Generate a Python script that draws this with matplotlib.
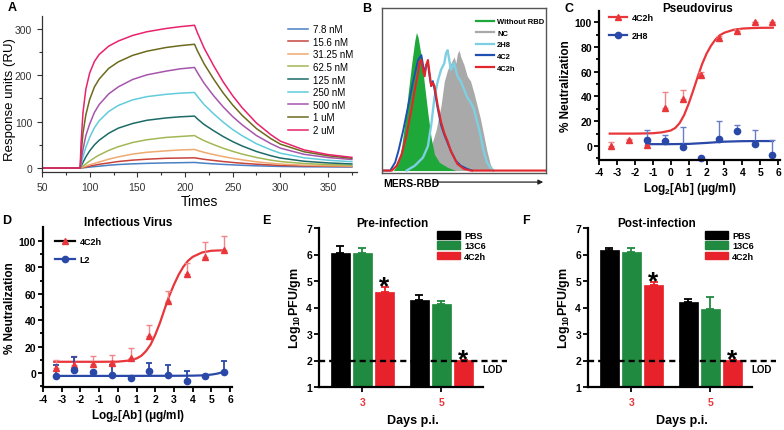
import numpy as np
import matplotlib
matplotlib.use('Agg')
from matplotlib import pyplot as plt
from matplotlib.lines import Line2D
from matplotlib.patches import Patch

plt.rcParams['font.family'] = ['Liberation Sans', 'DejaVu Sans']
plt.rcParams['mathtext.fontset'] = 'custom'
plt.rcParams['mathtext.bf'] = 'Liberation Sans:bold'
plt.rcParams['mathtext.rm'] = 'Liberation Sans:bold'
plt.rcParams['mathtext.default'] = 'bf'
plt.rcParams['axes.unicode_minus'] = False

# ---------------- A: SPR sensorgram ----------------
spr_time = [50, 90, 91, 93, 96, 100, 105, 110, 120, 130, 145, 160, 180, 195, 210,
            213, 220, 230, 240, 250, 260, 275, 290, 300, 325, 350, 375]
spr_labels = ['7.8 nM', '15.6 nM', '31.25 nM', '62.5 nM', '125 nM', '250 nM', '500 nM', '1 uM', '2 uM']
spr_colors = ['#4a80c4', '#c8443c', '#eeaa70', '#a2b855', '#1c6b68', '#62cbdc', '#a655ad', '#6c6a1c', '#e8226c']
spr_7_8 = [0, 0, 0.2, 0.5, 1, 2, 3, 4, 6, 7.5, 9, 10, 11, 11.5, 12,
           11.5, 10.3, 9, 7.8, 6.8, 5.9, 4.7, 3.9, 3.4, 2.7, 2.4, 2.2]
spr_15_6 = [0, 0, 0.3, 1, 2, 4, 6, 8, 11, 14, 17, 19, 21, 21.5, 22,
            21, 18.8, 16.3, 14, 12, 10.3, 8.2, 6.5, 5.6, 4.4, 3.7, 3.3]
spr_31_25 = [0, 0, 0.5, 2, 4, 7, 10, 13, 19, 24, 30, 34, 37, 39, 40,
             38, 33.8, 29, 24.7, 20.9, 17.6, 13.4, 10.3, 8.5, 6.1, 4.9, 4.1]
spr_62_5 = [0, 0, 1, 4, 9, 15, 22, 28, 38, 46, 55, 61, 66, 68, 70,
            66.4, 59, 50.5, 42.7, 36, 30, 22.7, 17, 14, 9.7, 7.5, 6.1]
spr_125 = [0, 0, 4, 12, 24, 37, 50, 60, 75, 86, 96, 103, 108, 110.5, 112,
           106, 94, 80.5, 68, 57, 47.5, 35.6, 26.5, 21.5, 14.6, 11, 8.8]
spr_250 = [0, 0, 8, 24, 45, 66, 87, 102, 122, 135, 147, 154, 159, 161.5, 163,
           154.6, 137, 117, 99, 83, 69.7, 52.3, 39.3, 32, 22, 16.8, 13.6]
spr_500 = [0, 0, 15, 40, 70, 95, 120, 137, 160, 175, 191, 201, 209, 214, 217,
           206, 183, 156, 132, 111, 93, 70, 52.6, 42.9, 29.5, 22.7, 18.4]
spr_1000 = [0, 0, 30, 75, 115, 148, 175, 192, 215, 229, 243, 252, 260, 264, 267,
            253, 225, 192, 162, 136, 113.5, 85, 63.5, 51.5, 35, 26.5, 21]
spr_2000 = [0, 0, 55, 120, 170, 205, 230, 245, 263, 274, 286, 294, 301, 305, 308,
            292, 259, 221, 186, 156, 130, 97, 72, 58, 39, 29, 23]
spr_curves = [spr_7_8, spr_15_6, spr_31_25, spr_62_5, spr_125, spr_250, spr_500, spr_1000, spr_2000]

# ---------------- B: flow cytometry histograms ----------------
norbd_x = [7, 10, 12, 14, 16, 18, 20, 21, 22, 24, 26, 28, 30, 32, 35, 40, 45]
norbd_y = [0, 5, 15, 30, 48, 65, 80, 85, 82, 70, 52, 35, 20, 10, 5, 2, 0]
nc_x = [20, 25, 30, 33, 36, 38, 40, 42, 44, 45, 46, 47, 48, 50, 52, 54, 56, 58, 60, 62, 64, 66, 68]
nc_y = [0, 5, 15, 25, 40, 55, 62, 66, 70, 66, 72, 74, 70, 65, 58, 55, 48, 40, 32, 22, 12, 4, 0]
h2h8_x = [15, 20, 25, 28, 30, 32, 34, 36, 38, 39, 40, 42, 44, 46, 48, 50, 52, 54, 56, 58, 60, 62, 64, 66, 68]
h2h8_y = [0, 3, 8, 15, 28, 45, 55, 62, 66, 72, 74, 62, 66, 58, 55, 50, 45, 42, 38, 30, 22, 12, 5, 2, 0]
c42_x = [0, 5, 8, 10, 13, 16, 19, 22, 24, 25, 26, 27, 28, 29, 30, 31, 32, 34, 36, 38, 40, 42, 45, 48, 52, 55]
c42_y = [0, 0, 5, 12, 25, 40, 55, 68, 71, 65, 60, 65, 66, 58, 52, 55, 50, 38, 28, 22, 17, 12, 6, 3, 1, 0]
c42h_x = [0, 6, 9, 12, 15, 18, 20, 22, 23, 24, 25, 26, 27, 28, 29, 30, 31, 32, 34, 36, 38, 40, 42, 44, 46, 50, 54, 100]
c42h_y = [0, 0, 3, 10, 22, 38, 50, 60, 67, 68, 62, 58, 65, 68, 60, 52, 54, 52, 40, 30, 23, 18, 12, 8, 4, 1, 0, 0]
b_labels = ['Without RBD', 'NC', '2H8', '4C2', '4C2h']
b_colors = ['#1fa83a', '#a9a9a9', '#7fcfe3', '#1f4fb0', '#e3262b']

# ---------------- C: pseudovirus neutralization ----------------
c_x = [-3.32, -2.32, -1.32, -0.32, 0.68, 1.68, 2.68, 3.68, 4.68, 5.68]
c_4c2h = [0, 5, 1, 31, 38, 57, 87, 93, 100, 100]
c_4c2h_err = [3.5, 1, 3.5, 13, 7, 3, 1.5, 1.5, 0, 0]
c_2h8_x = [-1.32, -0.32, 0.68, 1.68, 2.68, 3.68, 4.68, 5.68]
c_2h8 = [5, 4, -1, -10, 6, 12, 2, -7]
c_2h8_err = [8, 4.5, 16.5, 0, 14, 5, 11, 12]
c_fit_x = [-3.4, -2, -1, -0.5, 0, 0.25, 0.5, 0.75, 1, 1.25, 1.5, 1.75, 2, 2.25, 2.5, 2.75,
           3, 3.5, 4, 4.5, 5, 5.7]
c_fit_4c2h = [10, 10, 10.3, 11, 12.5, 14.5, 18.5, 25, 34, 44.5, 55.5, 66, 74.5, 81, 86, 89.5,
              91.5, 93.8, 94.8, 95.2, 95.4, 95.5]
c_fit_2h8_x = [-1.36, 0, 1, 2, 3, 4, 5, 5.7]
c_fit_2h8 = [1.5, 1.5, 1.7, 2.5, 3.5, 3.9, 4, 4]

# ---------------- D: infectious virus neutralization ----------------
d_x = [-3.32, -2.32, -1.32, -0.32, 0.68, 1.68, 2.68, 3.68, 4.68, 5.68]
d_4c2h = [3.8, 6.4, 7.2, 7.7, 11, 28, 54.5, 75, 88, 93]
d_4c2h_err = [6.4, 6.4, 5.6, 5.9, 7.7, 8, 7.5, 8, 11, 10.5]
d_l2 = [-2.6, 2, 0.8, -1.8, -3.8, 1.3, -1.3, -6.4, -2.6, 0.8]
d_l2_err = [8.5, 10.5, 0, 7.8, 0, 6, 7.2, 7.7, 0, 8.2]
d_fit_x = [-3.4, -1, 0, 0.5, 1, 1.25, 1.5, 1.75, 2, 2.25, 2.5, 2.75, 3, 3.25, 3.5, 3.75,
           4, 4.5, 5, 5.7]
d_fit_4c2h = [8.5, 8.5, 8.6, 9.3, 11, 13, 16.5, 21.5, 29, 38, 48.5, 58.5, 67, 74.5, 80.5, 85,
              88, 91.3, 92.6, 93]
d_fit_l2_x = [-3.4, 0, 3, 4, 4.5, 5, 5.3, 5.7]
d_fit_l2 = [-2.2, -2.2, -2.1, -2, -1.8, -1.2, -0.5, 1]

# ---------------- E / F: viral titers ----------------
days = ['3', '5']
groups = ['PBS', '13C6', '4C2h']
bar_colors = ['#000000', '#1f8a40', '#e8222a']
e_vals = [[6.06, 4.28], [6.06, 4.13], [4.59, 2.02]]
e_errs = [[0.26, 0.18], [0.19, 0.11], [0.18, 0.0]]
f_vals = [[6.17, 4.21], [6.09, 3.94], [4.85, 2.02]]
f_errs = [[0.08, 0.11], [0.16, 0.46], [0.11, 0.0]]
lod = 2

W, H = 784, 431
fig = plt.figure(figsize=(7.84, 4.31), dpi=100)


def rect(l, t, r, b):
    return [l / W, 1 - b / H, (r - l) / W, (b - t) / H]


def fpos(x, y):
    return (x / W, 1 - y / H)


red = '#e8363a'
lred = '#f0868a'
blue = '#2a48a8'
lblue = '#6a7cc8'

# ---- A ----
axA = fig.add_axes(rect(42, 17, 356.6, 173))
for lab, vals, col in zip(spr_labels, spr_curves, spr_colors):
    axA.plot(spr_time, vals, color=col, lw=1.1, label=lab)
axA.set_xlim(50, 380)
axA.set_ylim(-8.6, 328)
axA.spines['top'].set_visible(False)
axA.spines['right'].set_visible(False)
for s in ['left', 'bottom']:
    axA.spines[s].set_color('#333333')
    axA.spines[s].set_linewidth(0.9)
axA.set_xticks(np.arange(50, 351, 50))
axA.set_xticks(np.arange(75, 376, 50), minor=True)
axA.set_yticks([0, 100, 200, 300])
axA.set_yticks([50, 150, 250], minor=True)
axA.tick_params(which='both', direction='out', width=0.8, colors='#333333', labelsize=7.5)
axA.tick_params(which='major', length=3.5)
axA.tick_params(which='minor', length=2.5)
axA.set_xlabel('Times', fontsize=10, labelpad=2)
axA.set_ylabel('Response units (RU)', fontsize=9.5)
axA.yaxis.set_label_coords((16 - 42) / 314.6, 0.47)
axA.legend(loc='upper left', bbox_to_anchor=fpos(288, 25), bbox_transform=fig.transFigure,
           frameon=False, fontsize=7, handlelength=2.1, handletextpad=0.5,
           labelspacing=0.27, borderpad=0, borderaxespad=0)

# ---- B ----
axB = fig.add_axes(rect(382, 9, 546, 174))
axB.fill_between(nc_x, nc_y, color=b_colors[1], lw=0)
axB.fill_between(norbd_x, norbd_y, color=b_colors[0], lw=0)
axB.plot(h2h8_x, h2h8_y, color=b_colors[2], lw=1.7)
axB.plot(c42_x, c42_y, color=b_colors[3], lw=1.4)
axB.plot(c42h_x, c42h_y, color=b_colors[4], lw=1.5)
axB.set_xlim(0, 100)
axB.set_ylim(-1.5, 100)
axB.set_xticks([])
axB.set_yticks([])
for s in axB.spines.values():
    s.set_color('#555555')
    s.set_linewidth(1.0)
b_handles = [Line2D([0], [0], color=c, lw=1.6) for c in b_colors]
axB.legend(b_handles, b_labels, loc='upper left', bbox_to_anchor=fpos(476, 19),
           bbox_transform=fig.transFigure, frameon=False,
           prop={'size': 5.5, 'weight': 'bold'}, handlelength=2.4, handletextpad=0.35,
           labelspacing=0.55, borderpad=0, borderaxespad=0)
axB.annotate('', xy=(1.0, -0.055), xytext=(0.3, -0.055), xycoords='axes fraction',
             arrowprops=dict(arrowstyle='-|>', color='#222222', lw=0.9,
                             mutation_scale=7), annotation_clip=False)
fig.text(*fpos(383, 184), 'MERS-RBD', fontsize=7.5, weight='bold', ha='left', va='center')


def style_neut(ax, ylim):
    ax.set_xlim(-4, 6.1)
    ax.set_ylim(*ylim)
    ax.spines['top'].set_visible(False)
    ax.spines['right'].set_visible(False)
    for s in ['left', 'bottom']:
        ax.spines[s].set_linewidth(1.6)
    ax.set_xticks(range(-4, 7))
    ax.set_yticks(range(0, 101, 20))
    ax.set_yticks([-10, 10, 30, 50, 70, 90], minor=True)
    ax.tick_params(which='both', direction='out', width=1.3, labelsize=7.5, pad=1.5)
    ax.tick_params(which='major', length=3.5)
    ax.tick_params(which='minor', length=2.5)
    for t in ax.get_xticklabels() + ax.get_yticklabels():
        t.set_fontweight('bold')
    ax.set_xlabel('Log$_2$[Ab] (\u03bcg/ml)', fontsize=8.5, weight='bold', labelpad=2)
    ax.set_ylabel('% Neutralization', fontsize=8.5, weight='bold', labelpad=2)


# ---- C ----
axC = fig.add_axes(rect(599, 12, 780, 161))
axC.plot(c_fit_x, c_fit_4c2h, color=red, lw=1.6)
axC.plot(c_fit_2h8_x, c_fit_2h8, color=blue, lw=1.6)
axC.errorbar(c_x, c_4c2h, yerr=[np.zeros(len(c_x)), c_4c2h_err], fmt='^', color=red,
             ms=4.5, ecolor=lred, elinewidth=1, capsize=2.5, capthick=1, clip_on=False)
axC.errorbar(c_2h8_x, c_2h8, yerr=[np.zeros(len(c_2h8_x)), c_2h8_err], fmt='o', color=blue,
             ms=4.5, ecolor=lblue, elinewidth=1, capsize=2.5, capthick=1, clip_on=False)
style_neut(axC, (-11.3, 109))
c_handles = [Line2D([0], [0], color=red, lw=1.6, marker='^', ms=4.5),
             Line2D([0], [0], color=blue, lw=1.6, marker='o', ms=4.5)]
axC.legend(c_handles, ['4C2h', '2H8'], loc='upper left', bbox_to_anchor=fpos(609, 14),
           bbox_transform=fig.transFigure, frameon=False,
           prop={'size': 6.5, 'weight': 'bold'}, handlelength=2.0, handletextpad=0.5,
           labelspacing=1.0, borderpad=0, borderaxespad=0)
fig.text(*fpos(698, 9), 'Pseudovirus', fontsize=8.5, weight='bold', ha='center', va='center')

# ---- D ----
axD = fig.add_axes(rect(43, 228, 232, 388))
axD.plot(d_fit_x, d_fit_4c2h, color=red, lw=1.6)
axD.plot(d_fit_l2_x, d_fit_l2, color=blue, lw=1.6)
axD.errorbar(d_x, d_4c2h, yerr=[np.zeros(len(d_x)), d_4c2h_err], fmt='^', color=red,
             ms=4.5, ecolor=lred, elinewidth=1, capsize=2.5, capthick=1, clip_on=False)
axD.errorbar(d_x, d_l2, yerr=[np.zeros(len(d_x)), d_l2_err], fmt='o', color=blue,
             ms=4.5, ecolor=blue, elinewidth=1.3, capsize=2.5, capthick=1.3, clip_on=False)
style_neut(axD, (-10.6, 110.6))
d_handles = [Line2D([0], [0], color='black', lw=1.6, marker='^', ms=4.5, mfc=red, mec=red),
             Line2D([0], [0], color=blue, lw=1.6, marker='o', ms=4.5)]
axD.legend(d_handles, ['4C2h', 'L2'], loc='upper left', bbox_to_anchor=fpos(55, 238),
           bbox_transform=fig.transFigure, frameon=False,
           prop={'size': 6.5, 'weight': 'bold'}, handlelength=2.2, handletextpad=0.5,
           labelspacing=1.0, borderpad=0, borderaxespad=0)
fig.text(*fpos(128, 223), 'Infectious Virus', fontsize=8.5, weight='bold', ha='center', va='center')


# ---- E / F ----
def draw_bars(ax, vals, errs, title, title_x, leg_x):
    pos = np.arange(len(days))
    offs = [-0.28, 0, 0.28]
    for g, (v, e, col) in enumerate(zip(vals, errs, bar_colors)):
        xs = pos + offs[g]
        ax.bar(xs, np.array(v) - 1, width=0.235, bottom=1, color=col, edgecolor=col,
               lw=0.5, label=groups[g], zorder=2)
        ax.errorbar(xs, v, yerr=[np.zeros(len(v)), e], fmt='none', ecolor=col,
                    elinewidth=1.3, capsize=3, capthick=1.3, zorder=2)
    for i in range(len(days)):
        ax.text(pos[i] + offs[2], vals[2][i] + errs[2][i] - 0.25, '*', ha='center',
                va='baseline', fontsize=19, weight='bold', zorder=4)
    ax.axhline(lod, color='black', lw=1.7, ls=(0, (2.6, 1.7)), zorder=3)
    ax.text(1.65, 1.68, 'LOD', fontsize=7, weight='bold', ha='center', va='center')
    ax.set_xlim(-0.55, 1.83)
    ax.set_ylim(1, 7)
    ax.spines['top'].set_visible(False)
    ax.spines['right'].set_visible(False)
    ax.spines['bottom'].set_bounds(-0.55, 1.52)
    for s in ['left', 'bottom']:
        ax.spines[s].set_linewidth(1.6)
    ax.set_xticks(pos)
    ax.set_xticklabels(days)
    ax.set_yticks(range(1, 8))
    ax.tick_params(direction='out', width=1.3, length=3.5, labelsize=7.5, pad=1.5)
    ax.tick_params(axis='x', pad=4)
    for t in ax.get_xticklabels():
        t.set_fontweight('bold')
        t.set_color(red)
    for t in ax.get_yticklabels():
        t.set_fontweight('bold')
    ax.set_xlabel('Days p.i.', fontsize=9, weight='bold', labelpad=5)
    ax.set_ylabel('Log$_{10}$PFU/gm', fontsize=9, weight='bold', labelpad=2)
    handles = [Patch(color=c) for c in bar_colors]
    ax.legend(handles, groups, loc='upper left', bbox_to_anchor=fpos(leg_x, 232),
              bbox_transform=fig.transFigure, frameon=False,
              prop={'size': 6.5, 'weight': 'bold'}, handlelength=2.5, handleheight=0.9,
              handletextpad=0.5, labelspacing=0.15, borderpad=0, borderaxespad=0)
    fig.text(*fpos(title_x, 224), title, fontsize=8.5, weight='bold', ha='center', va='center')


axE = fig.add_axes(rect(319, 229, 507, 388))
draw_bars(axE, e_vals, e_errs, 'Pre-infection', 392, 437)
axF = fig.add_axes(rect(588, 229, 776, 388))
draw_bars(axF, f_vals, f_errs, 'Post-infection', 657, 705)

# panel letters
for lab, (x, y) in zip('ABCDEF', [(12, 8), (367, 9), (569, 9), (7, 221), (266, 221), (526, 221)]):
    fig.text(*fpos(x, y), lab, fontsize=9, weight='bold', ha='center', va='center')

fig.savefig('out.png', dpi=100)
